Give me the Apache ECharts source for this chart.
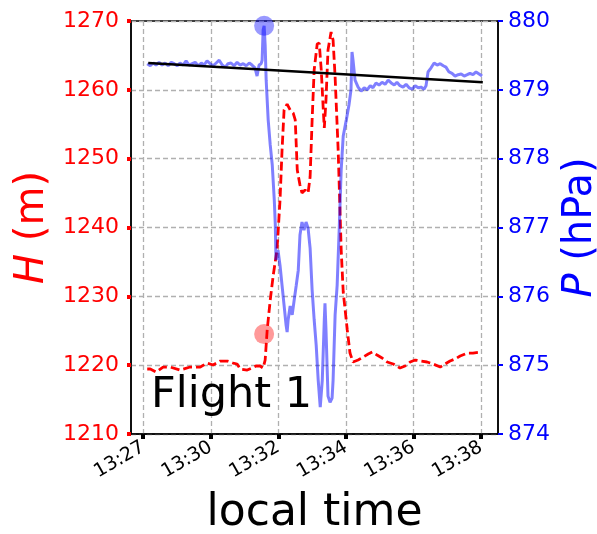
<!DOCTYPE html>
<html>
<head>
<meta charset="utf-8">
<title>Flight 1</title>
<script src="https://cdn.jsdelivr.net/npm/echarts@6/dist/echarts.min.js"></script>
<style>
html, body { margin: 0; padding: 0; background: #fff; }
#main { width: 597px; height: 534px; }
</style>
</head>
<body>
<div id="main"></div>
<script>
// x in minutes-like units, ticks every 2
var tickPos = [0, 2, 4, 6, 8, 10];
var tickLabels = ['13:27', '13:30', '13:32', '13:34', '13:36', '13:38'];

// altitude H (m), red dashed
var hTime = [0.12,0.21,0.38,0.59,0.80,1.09,1.39,1.69,1.89,2.07,2.28,2.49,2.66,2.78,2.87,3.08,3.22,3.34,3.46,3.55,
  3.61,3.67,3.76,3.85,3.96,4.05,4.11,4.17,4.26,4.35,4.44,4.50,4.56,4.64,4.70,4.79,4.88,4.94,5.00,5.06,
  5.15,5.21,5.27,5.33,5.36,5.41,5.47,5.56,5.62,5.68,5.77,5.86,5.92,6.04,6.12,6.21,6.36,6.51,6.66,6.78,
  6.92,7.07,7.22,7.40,7.60,7.75,7.90,8.05,8.20,8.40,8.58,8.79,8.93,9.08,9.23,9.38,9.59,9.76,9.97];
var hValues = [1219.44,1219.44,1219.00,1219.73,1219.73,1219.29,1219.73,1219.73,1220.31,1220.02,1220.60,1220.60,1220.31,1220.17,1219.44,1219.29,1219.58,1219.88,1219.88,1219.58,
  1220.75,1225.11,1229.46,1233.10,1236.73,1243.99,1251.26,1257.07,1257.94,1257.07,1256.63,1255.62,1248.35,1246.17,1245.01,1245.45,1245.01,1247.33,1255.62,1262.88,
  1266.66,1266.80,1262.88,1257.07,1254.45,1258.52,1265.79,1268.40,1267.24,1261.86,1251.26,1236.73,1230.63,1225.11,1221.76,1220.46,1220.75,1221.18,1221.62,1221.91,
  1221.47,1221.04,1220.46,1220.17,1219.58,1219.88,1220.46,1220.75,1220.60,1220.46,1220.17,1219.73,1220.17,1220.60,1220.89,1221.33,1221.76,1221.76,1221.91];

// pressure P (hPa), blue
var pTime = [0.12,0.21,0.30,0.38,0.47,0.56,0.65,0.74,0.83,0.92,1.01,1.09,1.18,1.27,1.36,1.45,1.54,1.63,1.72,1.80,
  1.89,1.98,2.07,2.16,2.25,2.34,2.43,2.51,2.60,2.69,2.78,2.87,2.96,3.05,3.14,3.22,3.31,3.37,3.43,3.49,
  3.52,3.55,3.58,3.61,3.64,3.70,3.76,3.82,3.88,3.91,3.93,3.99,4.05,4.11,4.17,4.23,4.26,4.29,4.35,4.41,
  4.47,4.53,4.59,4.64,4.70,4.76,4.82,4.88,4.94,5.00,5.06,5.12,5.18,5.24,5.30,5.36,5.38,5.41,5.47,5.53,
  5.59,5.62,5.68,5.74,5.80,5.86,5.92,6.01,6.09,6.15,6.18,6.21,6.27,6.36,6.45,6.54,6.63,6.72,6.80,6.89,
  6.98,7.07,7.16,7.25,7.34,7.43,7.51,7.60,7.69,7.78,7.87,7.96,8.05,8.14,8.22,8.31,8.37,8.43,8.52,8.61,
  8.70,8.79,8.88,8.96,9.05,9.14,9.23,9.32,9.41,9.50,9.59,9.67,9.76,9.85,9.94,10.03];
var pValues = [879.38,879.35,879.39,879.36,879.40,879.36,879.39,879.35,879.40,879.38,879.35,879.39,879.36,879.42,879.36,879.38,879.40,879.35,879.39,879.36,
  879.42,879.38,879.35,879.39,879.43,879.36,879.33,879.38,879.39,879.35,879.40,879.36,879.38,879.35,879.39,879.36,879.32,879.20,879.36,879.38,
  879.43,879.87,879.93,879.65,879.14,878.56,878.20,877.91,877.40,877.04,876.53,876.67,876.45,876.16,875.87,875.58,875.48,875.66,875.86,875.73,
  875.95,876.16,876.38,876.89,877.08,876.96,877.08,876.99,876.70,876.09,875.66,875.29,874.78,874.39,874.78,875.66,875.90,875.51,874.55,874.46,
  874.52,874.78,875.73,876.16,876.96,877.84,878.33,878.56,878.78,879.00,879.55,879.43,879.14,879.04,878.98,879.03,879.00,879.06,879.03,879.10,
  879.07,879.11,879.08,879.14,879.10,879.07,879.11,879.06,879.04,879.08,879.03,879.01,879.06,879.03,879.04,879.01,879.06,879.26,879.32,879.39,
  879.36,879.38,879.35,879.33,879.26,879.24,879.20,879.22,879.23,879.20,879.22,879.24,879.22,879.26,879.23,879.20];

// linear trend of P
var trendTime = [0.15, 10.05];
var trendValues = [879.39, 879.11];

// highlighted points
var markTime = 3.58;
var markH = 1224.52;
var markP = 879.93;

function pairs(xs, ys) {
  return xs.map(function (x, i) { return [x, ys[i]]; });
}

var font = 'DejaVu Sans';
var gridLine = { show: true, lineStyle: { color: '#b0b0b0', width: 1.3, type: [5, 3] } };

var myChart = echarts.init(document.getElementById('main'));
var option = {
  animation: false,
  textStyle: { fontFamily: font },
  grid: { left: 131, right: 99, top: 21, bottom: 100, outerBoundsMode: 'none', show: true, borderColor: '#000', borderWidth: 1.5, backgroundColor: 'transparent' },
  xAxis: {
    type: 'value', min: -0.36, max: 10.5,
    name: 'local time', nameLocation: 'middle', nameGap: 58,
    nameTextStyle: { color: '#000', fontSize: 44, fontFamily: font },
    axisLine: { show: true, onZero: false, lineStyle: { color: '#000', width: 1.5 } },
    axisTick: { show: true, customValues: tickPos, length: 5, lineStyle: { color: '#000', width: 4 } },
    axisLabel: {
      customValues: tickPos, rotate: 30, margin: 12, fontSize: 19, color: '#000', fontFamily: font,
      formatter: function (v) { var i = tickPos.indexOf(v); return i >= 0 ? tickLabels[i] : ''; }
    },
    splitLine: gridLine
  },
  yAxis: [{
    type: 'value', position: 'left', min: 1210, max: 1270, interval: 10,
    name: '{i|H} (m)', nameLocation: 'middle', nameGap: 78,
    nameTextStyle: { color: 'red', fontSize: 40, fontFamily: font, rich: { i: { fontStyle: 'italic', fontSize: 40, color: 'red', fontFamily: font } } },
    axisLine: { show: true, onZero: false, lineStyle: { color: '#000', width: 1.5 } },
    axisTick: { show: true, length: 4, lineStyle: { color: 'red', width: 4 } },
    axisLabel: { color: 'red', fontSize: 22, margin: 12, fontFamily: font, formatter: function (v) { return String(v); } },
    splitLine: gridLine
  }, {
    type: 'value', position: 'right', min: 874, max: 880, interval: 1,
    name: '{i|P} (hPa)', nameLocation: 'middle', nameGap: 60,
    nameTextStyle: { color: 'blue', fontSize: 40, fontFamily: font, rich: { i: { fontStyle: 'italic', fontSize: 40, color: 'blue', fontFamily: font } } },
    axisLine: { show: true, onZero: false, lineStyle: { color: '#000', width: 1.5 } },
    axisTick: { show: true, length: 5, lineStyle: { color: 'blue', width: 2 } },
    axisLabel: { color: 'blue', fontSize: 22, margin: 10, fontFamily: font, formatter: function (v) { return String(v); } },
    splitLine: { show: false }
  }],
  graphic: [{
    type: 'text', left: 151, top: 374, z: 100,
    style: { text: 'Flight 1', font: '43px "DejaVu Sans"', fill: '#000' }
  }],
  series: [{
    type: 'line', yAxisIndex: 0, data: pairs(hTime, hValues), showSymbol: false,
    lineStyle: { color: 'red', width: 2.8, type: [9, 4] }, z: 2
  }, {
    type: 'line', yAxisIndex: 1, data: pairs(pTime, pValues), showSymbol: false,
    lineStyle: { color: 'rgba(0,0,255,0.5)', width: 3 }, z: 3
  }, {
    type: 'line', yAxisIndex: 1, data: pairs(trendTime, trendValues), showSymbol: false,
    lineStyle: { color: '#000', width: 2.5 }, z: 4
  }, {
    type: 'scatter', yAxisIndex: 1, data: [[markTime, markP]], symbolSize: 20,
    itemStyle: { color: 'rgba(0,0,255,0.5)' }, z: 5
  }, {
    type: 'scatter', yAxisIndex: 0, data: [[markTime, markH]], symbolSize: 20,
    itemStyle: { color: 'rgba(255,0,0,0.5)' }, z: 5
  }]
};
myChart.setOption(option);
</script>
</body>
</html>
